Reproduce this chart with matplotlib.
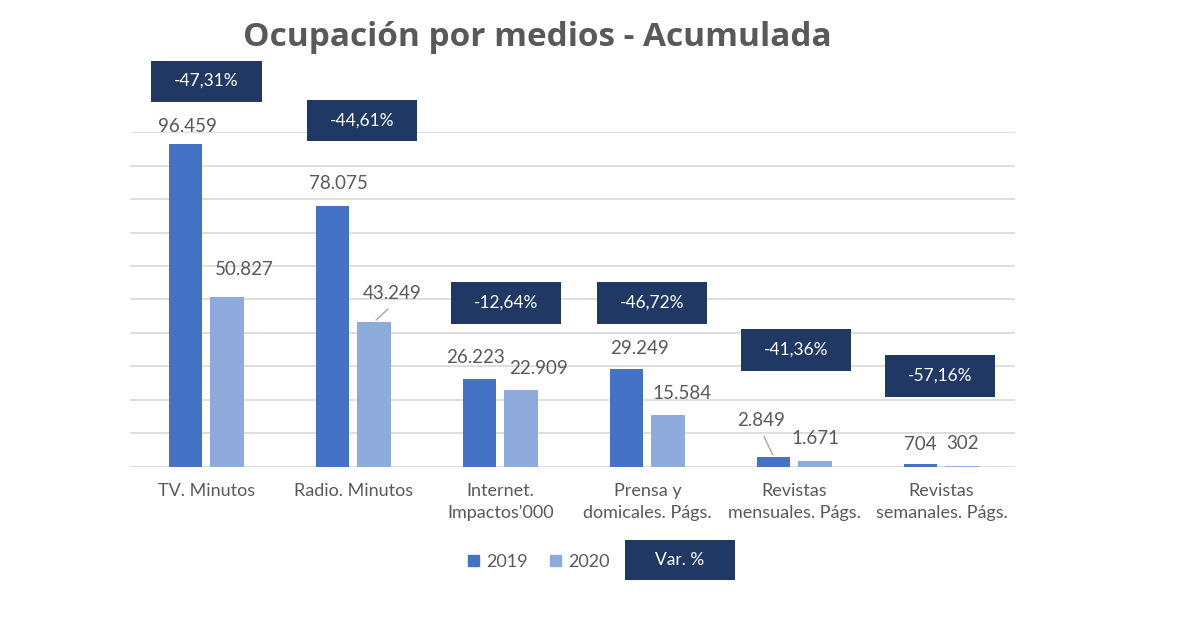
import numpy as np
import matplotlib.pyplot as plt
from matplotlib.patches import Rectangle

# datos
categorias = ["TV. Minutos", "Radio. Minutos", "Internet.\nImpactos'000",
              "Prensa y\ndomicales. Págs.", "Revistas\nmensuales. Págs.",
              "Revistas\nsemanales. Págs."]
v2019 = [96459, 78075, 26223, 29249, 2849, 704]
v2020 = [50827, 43249, 22909, 15584, 1671, 302]
variacion = ["-47,31%", "-44,61%", "-12,64%", "-46,72%", "-41,36%", "-57,16%"]

c2019 = "#4472C4"
c2020 = "#8FAADC"
navy = "#1F3864"
gris = "#595959"

plt.rcParams['font.family'] = ['Lato', 'DejaVu Sans']

fig = plt.figure(figsize=(12, 6.21), dpi=100)
ax = fig.add_axes([0.1083, 0.2485, 0.7375, 0.5385])

x = np.arange(len(categorias))
w = 0.225
off = 0.14
b1 = ax.bar(x - off, v2019, w, color=c2019, zorder=3)
b2 = ax.bar(x + off, v2020, w, color=c2020, zorder=3)

ax.set_xlim(-0.52, 5.5)
ax.set_ylim(0, 100000)
ax.set_yticks(np.arange(0, 100001, 10000))
ax.yaxis.grid(True, color="#D9D9D9", linewidth=1.2, zorder=0)
ax.tick_params(axis="y", length=0, labelleft=False)
ax.tick_params(axis="x", length=0, pad=12, labelsize=13, labelcolor=gris)
ax.set_xticks(x)
ax.set_xticklabels(categorias, linespacing=1.4)
for s in ax.spines.values():
    s.set_visible(False)

# etiquetas de datos (desplazamientos en pixeles, como en el original)
desp2019 = [(2, 18), (6, 22), (-4, 21), (13, 20), (-13, 37), (-1, 20)]
desp2020 = [(17, 27), (18, 29), (17, 22), (14, 21), (0, 23), (0, 22)]
for i in range(len(categorias)):
    for xb, val, d in ((x[i] - off, v2019[i], desp2019[i]),
                       (x[i] + off, v2020[i], desp2020[i])):
        txt = f"{val:,}".replace(",", ".")
        ax.annotate(txt, (xb, val), xytext=d, textcoords="offset pixels",
                    ha="center", va="center", fontsize=13.5, color=gris)

# lineas guia
ax.annotate("", (x[1] + off, v2020[1]), xytext=(16, 15), textcoords="offset pixels",
            arrowprops=dict(arrowstyle="-", color="#A6A6A6", lw=1))
ax.annotate("", (x[4] - off, v2019[4]), xytext=(-11, 23), textcoords="offset pixels",
            arrowprops=dict(arrowstyle="-", color="#A6A6A6", lw=1))

# cajas de variacion
caja_y = [115300, 103400, 48950, 48950, 34900, 27100]
caja_dx = [0.0, 0.06, 0.04, 0.03, 0.01, -0.01]
bw, bh = 0.75, 12300
for i in range(len(categorias)):
    cx = x[i] + caja_dx[i]
    ax.add_patch(Rectangle((cx - bw / 2, caja_y[i] - bh / 2), bw, bh,
                           facecolor=navy, edgecolor="none", zorder=5, clip_on=False))
    ax.text(cx, caja_y[i], variacion[i], ha="center", va="center",
            color="white", fontsize=12.5, zorder=6, clip_on=False)

# leyenda
h1 = Rectangle((0, 0), 1, 1, color=c2019)
h2 = Rectangle((0, 0), 1, 1, color=c2020)
leg = fig.legend([h1, h2], ["2019", "2020"], loc="center", bbox_to_anchor=(0.449, 0.095),
                 ncol=2, frameon=False, fontsize=13, handlelength=0.6, handleheight=0.6,
                 handletextpad=0.4, columnspacing=1.2)
for t in leg.get_texts():
    t.set_color(gris)
fig.patches.append(Rectangle((625 / 1200, 1 - 580 / 621), 110 / 1200, 40 / 621,
                             transform=fig.transFigure, facecolor=navy, edgecolor="none"))
fig.text(680 / 1200, 1 - 560 / 621, "Var. %", ha="center", va="center",
         color="white", fontsize=12.5)

fig.text(0.4475, 0.94, "Ocupación por medios - Acumulada", ha="center", va="center",
         fontsize=24, fontweight="bold", color=gris, family=["Open Sans", "DejaVu Sans"])

fig.savefig("out.png", dpi=100, facecolor="white")
